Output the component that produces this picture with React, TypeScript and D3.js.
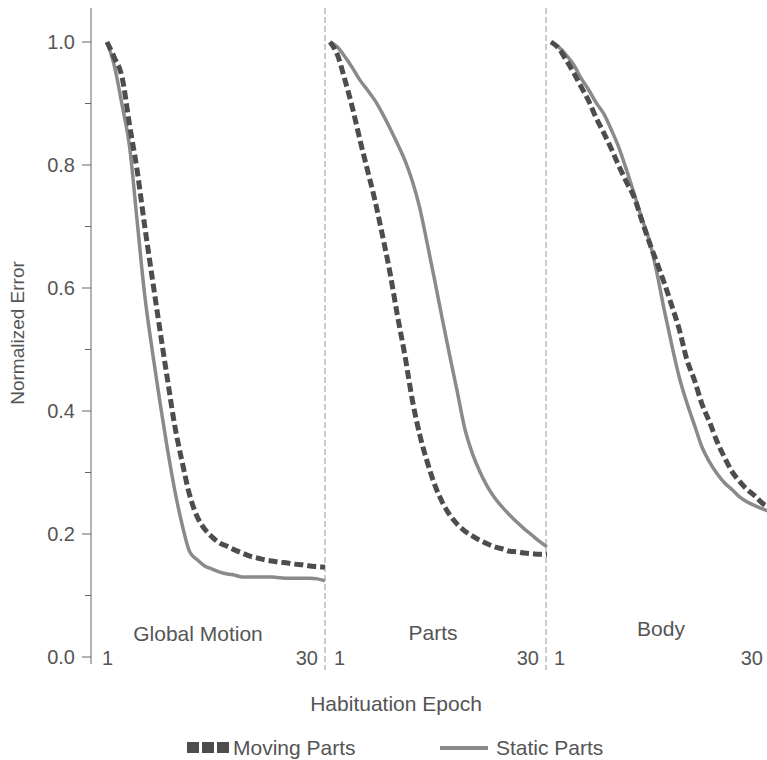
import React from 'react';
import * as d3 from 'd3';

// epochs 1..30 for every panel
const epochs = d3.range(1, 31);

const panelNames = ['Global Motion', 'Parts', 'Body'];

// Moving Parts (dashed)
const movingGlobal = [1.0, 0.974, 0.943, 0.865, 0.792, 0.702, 0.618, 0.535, 0.455, 0.377, 0.317, 0.263, 0.228, 0.208, 0.195, 0.185, 0.18, 0.174, 0.169, 0.164, 0.161, 0.158, 0.156, 0.154, 0.153, 0.151, 0.15, 0.148, 0.147, 0.146];
const movingParts = [1.0, 0.979, 0.938, 0.893, 0.841, 0.792, 0.743, 0.686, 0.626, 0.556, 0.491, 0.418, 0.361, 0.317, 0.28, 0.252, 0.231, 0.216, 0.205, 0.197, 0.19, 0.184, 0.179, 0.176, 0.172, 0.171, 0.169, 0.168, 0.167, 0.167];
const movingBody = [1.0, 0.99, 0.971, 0.95, 0.927, 0.904, 0.876, 0.852, 0.826, 0.798, 0.772, 0.748, 0.711, 0.675, 0.642, 0.608, 0.571, 0.532, 0.483, 0.45, 0.411, 0.382, 0.35, 0.324, 0.301, 0.285, 0.272, 0.262, 0.25, 0.242];

// Static Parts (solid)
const staticGlobal = [1.0, 0.96, 0.898, 0.83, 0.71, 0.59, 0.5, 0.418, 0.341, 0.272, 0.215, 0.171, 0.158, 0.148, 0.143, 0.138, 0.135, 0.133, 0.13, 0.13, 0.13, 0.13, 0.13, 0.129, 0.128, 0.128, 0.128, 0.128, 0.127, 0.124];
const staticParts = [1.0, 0.992, 0.976, 0.958, 0.938, 0.922, 0.905, 0.884, 0.86, 0.835, 0.808, 0.774, 0.73, 0.672, 0.612, 0.55, 0.49, 0.432, 0.372, 0.332, 0.302, 0.278, 0.259, 0.244, 0.231, 0.219, 0.208, 0.198, 0.188, 0.179];
const staticBody = [1.0, 0.992, 0.979, 0.963, 0.941, 0.922, 0.901, 0.883, 0.857, 0.828, 0.792, 0.754, 0.714, 0.678, 0.626, 0.564, 0.507, 0.454, 0.413, 0.377, 0.341, 0.317, 0.298, 0.283, 0.272, 0.26, 0.252, 0.246, 0.241, 0.236];

const movingSeries = [movingGlobal, movingParts, movingBody];
const staticSeries = [staticGlobal, staticParts, staticBody];

const yTicks = [0, 0.2, 0.4, 0.6, 0.8, 1.0];
const yMinor = [0.1, 0.3, 0.5, 0.7, 0.9];

const W = 767;
const H = 760;
const font = '"Liberation Sans", Arial, Helvetica, sans-serif';
const textColor = '#555';

// pixel range of epoch 1..30 in each panel
const panelRanges = [
  [107, 325],
  [330, 547],
  [551, 770],
];
const separators = [325, 546];
const oneLabelX = [102, 334, 554];
const thirtyLabelX = [318, 539, 763];
const titleX = [198, 433, 661];
const titleY = [641, 640, 636];

const App = () => {
  const y = d3.scaleLinear().domain([0, 1]).range([657, 42]);
  const axisX = 91;

  return (
    <svg width={W} height={H} style={{ position: 'absolute', left: 0, top: 0, background: '#fff' }}>
      {/* y axis */}
      <line x1={axisX} x2={axisX} y1={8} y2={664} stroke="#666" strokeWidth={1} />
      {yTicks.map((t) => (
        <g key={t}>
          <line x1={axisX - 9} x2={axisX} y1={y(t)} y2={y(t)} stroke="#666" />
          <text x={75} y={y(t) + 7} textAnchor="end" fontSize={20} fontFamily={font} fill={textColor}>
            {d3.format('.1f')(t)}
          </text>
        </g>
      ))}
      {yMinor.map((t) => (
        <line key={t} x1={axisX - 6} x2={axisX} y1={y(t)} y2={y(t)} stroke="#666" />
      ))}
      <text
        transform={`translate(24,333) rotate(-90)`}
        textAnchor="middle"
        fontSize={19}
        fontFamily={font}
        fill={textColor}
      >
        Normalized Error
      </text>

      {/* panel separators */}
      {separators.map((sx) => (
        <line key={sx} x1={sx} x2={sx} y1={8} y2={670} stroke="#999" strokeWidth={1} strokeDasharray="6,3" />
      ))}

      {panelNames.map((name, i) => {
        const x = d3.scaleLinear().domain([1, 30]).range(panelRanges[i]);
        const line = d3
          .line<number>()
          .x((_, j) => x(epochs[j]))
          .y((d) => y(d))
          .curve(d3.curveMonotoneX);
        return (
          <g key={name}>
            <path d={line(staticSeries[i]) || ''} fill="none" stroke="#8a8a8a" strokeWidth={3.5} />
            <path
              d={line(movingSeries[i]) || ''}
              fill="none"
              stroke="#4d4d4d"
              strokeWidth={5}
              strokeDasharray="9,4"
            />
            <text x={titleX[i]} y={titleY[i]} textAnchor="middle" fontSize={21} fontFamily={font} fill={textColor}>
              {name}
            </text>
            <text x={oneLabelX[i]} y={665} fontSize={20} fontFamily={font} fill={textColor}>
              {epochs[0]}
            </text>
            <text x={thirtyLabelX[i]} y={665} textAnchor="end" fontSize={20} fontFamily={font} fill={textColor}>
              {epochs[epochs.length - 1]}
            </text>
          </g>
        );
      })}

      {/* x axis title */}
      <text x={396} y={711} textAnchor="middle" fontSize={21} fontFamily={font} fill={textColor}>
        Habituation Epoch
      </text>

      {/* legend */}
      {[0, 1, 2].map((k) => (
        <rect key={k} x={187 + k * 15} y={742} width={12} height={11} fill="#4d4d4d" />
      ))}
      <text x={233} y={755} fontSize={21} fontFamily={font} fill={textColor}>
        Moving Parts
      </text>
      <line x1={440} x2={488} y1={748} y2={748} stroke="#8a8a8a" strokeWidth={4} />
      <text x={496} y={755} fontSize={21} fontFamily={font} fill={textColor}>
        Static Parts
      </text>
    </svg>
  );
};

export default App;
